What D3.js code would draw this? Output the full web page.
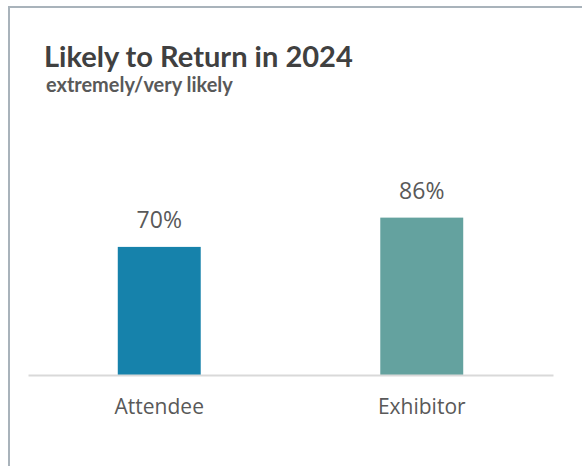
<!DOCTYPE html>
<html>
<head>
<meta charset="utf-8">
<script src="https://cdn.jsdelivr.net/npm/d3@7"></script>
<style>
  html, body { margin: 0; padding: 0; background: #ffffff; }
  svg { display: block; }
</style>
</head>
<body>
<svg id="chart" width="582" height="466"></svg>
<script>
// Share of respondents "extremely/very likely" to return, by group
const categories = ["Attendee", "Exhibitor"];
const values = [70, 86];
const barColors = ["#1682ab", "#64a29f"];
const titleText = "Likely to Return in 2024";
const subtitleText = "extremely/very likely";

const W = 582, H = 466;
const svg = d3.select("#chart");

// frame: top and left rules
svg.append("line")
  .attr("x1", 9).attr("x2", W).attr("y1", 7).attr("y2", 7)
  .attr("stroke", "#a9b3bb").attr("stroke-width", 2);
svg.append("line")
  .attr("x1", 9).attr("x2", 9).attr("y1", 6).attr("y2", H)
  .attr("stroke", "#a9b3bb").attr("stroke-width", 2);

// titles, sized to a fixed width
function fitText(sel, targetWidth) {
  const start = parseFloat(sel.attr("font-size"));
  const w = sel.node().getComputedTextLength();
  if (w > 0) sel.attr("font-size", (start * targetWidth / w).toFixed(2));
}
const title = svg.append("text")
  .attr("x", 44).attr("y", 67)
  .attr("font-family", "Lato, 'Open Sans', sans-serif")
  .attr("font-weight", 700).attr("font-size", 26)
  .attr("fill", "#404040")
  .text(titleText);
fitText(title, 309);

const subtitle = svg.append("text")
  .attr("x", 46).attr("y", 92)
  .attr("font-family", "Lato, 'Open Sans', sans-serif")
  .attr("font-weight", 700).attr("font-size", 16)
  .attr("fill", "#595959")
  .text(subtitleText);
fitText(subtitle, 187);

// scales
const x = d3.scaleBand()
  .domain(categories)
  .range([28, 553])
  .paddingInner(0.684)
  .paddingOuter(0.342);

const y = d3.scaleLinear()
  .domain([0, 100])
  .range([375, 192]);

// bars
svg.append("g").selectAll("rect")
  .data(categories)
  .join("rect")
  .attr("x", d => x(d))
  .attr("width", x.bandwidth())
  .attr("y", (d, i) => y(values[i]))
  .attr("height", (d, i) => y(0) - y(values[i]))
  .attr("fill", (d, i) => barColors[i]);

// value labels
svg.append("g").selectAll("text")
  .data(categories)
  .join("text")
  .attr("x", d => x(d) + x.bandwidth() / 2)
  .attr("y", (d, i) => y(values[i]) - 19)
  .attr("text-anchor", "middle")
  .attr("font-family", "'Open Sans', sans-serif")
  .attr("font-size", 23)
  .attr("fill", "#595959")
  .text((d, i) => values[i] + "%");

// category axis
const axis = svg.append("g")
  .attr("transform", `translate(0,${y(0)})`)
  .call(d3.axisBottom(x).tickSize(0).tickPadding(16).tickSizeOuter(0));
axis.select(".domain")
  .attr("stroke", "#d9d9d9").attr("stroke-width", 2);
axis.selectAll("text")
  .attr("font-family", "'Open Sans', sans-serif")
  .attr("font-size", 21)
  .attr("fill", "#595959")
  .attr("dy", "0")
  .attr("y", 38.5);
</script>
</body>
</html>
